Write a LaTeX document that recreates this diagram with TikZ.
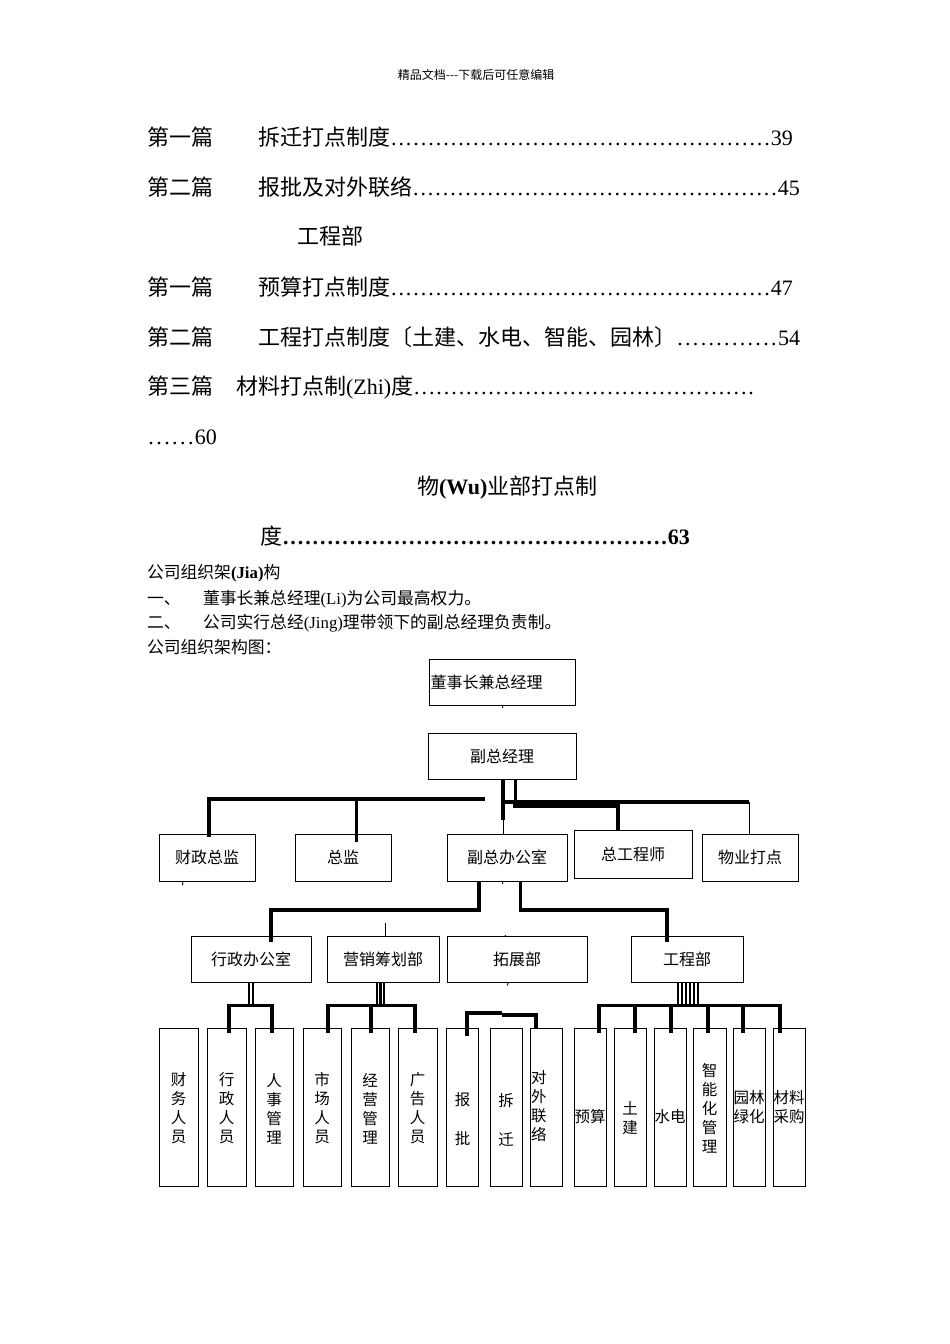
\documentclass[tikz,border=0pt]{standalone}
\usepackage{fontspec}
\setmainfont{Liberation Serif}
\newfontfamily\cjk{Noto Sans CJK SC}
\newcommand\zh[1]{{\cjk #1}}
\newcommand\myleader{\xleaders\hbox to 7.33pt{\hss.\hss}\hfill}
\begin{document}
\begin{tikzpicture}[x=1pt,y=-1pt,
  every node/.style={inner sep=0pt, outer sep=0pt},
  box/.style={draw, line width=0.9pt, minimum height=46pt},
  btxt/.style={font=\cjk\fontsize{16}{19}\selectfont},
  leaf/.style={draw, line width=0.9pt, minimum height=158pt, minimum width=32pt},
  ltxt/.style={font=\cjk\fontsize{15.5}{19}\selectfont, align=center},
  toc/.style={anchor=base west, font=\fontsize{22}{26}\selectfont},
  body/.style={anchor=base west, font=\fontsize{16.8}{20}\selectfont},
  thk/.style={line width=3.5pt},
  thm/.style={line width=2.5pt},
  thn/.style={line width=0.9pt},
]
\fill[white] (0,0) rectangle (950,1344);
\useasboundingbox (0,0) rectangle (950,1344);

% header
\node[anchor=base, font=\cjk\fontsize{12}{14}\selectfont] (hdr) at (476,79.6) {精品文档---下载后可任意编辑};

% table of contents
\node[toc] (t1a) at (147,145.4) {\zh{第一篇}};
\node[toc] (t1b) at (258,145.4) {\hbox to 535pt{\zh{拆迁打点制度}\myleader 39}};
\node[toc] (t2a) at (147,195.4) {\zh{第二篇}};
\node[toc] (t2b) at (258,195.4) {\hbox to 542pt{\zh{报批及对外联络}\myleader 45}};
\node[toc] (t3) at (297,244.4) {\zh{工程部}};
\node[toc] (t4a) at (147,295.4) {\zh{第一篇}};
\node[toc] (t4b) at (258,295.4) {\hbox to 535pt{\zh{预算打点制度}\myleader 47}};
\node[toc] (t5a) at (147,345.4) {\zh{第二篇}};
\node[toc] (t5b) at (258,345.4) {\hbox to 542pt{\zh{工程打点制度〔土建、水电、智能、园林〕}\myleader 54}};
\node[toc] (t6a) at (147,394.4) {\zh{第三篇}};
\node[toc] (t6b) at (236,394.4) {\hbox to 519pt{\zh{材料打点制}(Zhi)\zh{度}\myleader}};
\node[toc] (t7) at (147,444.4) {\hbox to 70pt{\myleader 60}};
\node[toc] (t8) at (417,494.4) {\zh{物}\textbf{(Wu)}\zh{业部打点制}};
\node[toc] (t9) at (260,544.4) {\hbox to 430pt{\zh{度}\bfseries\myleader 63}};

% body text
\node[body] (b1) at (147,578.4) {\zh{公司组织架}\textbf{(Jia)}\zh{构}};
\node[body] (b2a) at (147,604.4) {\zh{一、}};
\node[body] (b2b) at (203,604.4) {\zh{董事长兼总经理}(Li)\zh{为公司最高权力。}};
\node[body] (b3a) at (147,628.4) {\zh{二、}};
\node[body] (b3b) at (203,628.4) {\zh{公司实行总经}(Jing)\zh{理带领下的副总经理负责制。}};
\node[body] (b4) at (147,653.4) {\zh{公司组织架构图：}};

% level 0/1
\node[box, minimum width=146pt] (dsz) at (502,682) {};
\node[btxt, anchor=west] (dszt) at ([xshift=1.5pt]dsz.west) {董事长兼总经理};
\node[box, minimum width=148pt, btxt] (fzjl) at (502,756) {副总经理};

% level 2
\node[box, minimum width=96pt, minimum height=47pt, btxt] (cz) at (207,857.5) {财政总监};
\node[box, minimum width=96pt, minimum height=47pt, btxt] (zj) at (343,857.5) {总监};
\node[box, minimum width=120pt, minimum height=47pt, btxt] (fzb) at (507,857.5) {副总办公室};
\node[box, minimum width=118pt, minimum height=48pt, btxt] (zgc) at (633,854) {总工程师};
\node[box, minimum width=96pt, minimum height=47pt, btxt] (wy) at (750,857.5) {物业打点};

% level 3
\node[box, minimum width=120pt, btxt] (xz) at (251,959.5) {行政办公室};
\node[box, minimum width=112pt, btxt] (yx) at (383,959.5) {营销筹划部};
\node[box, minimum width=140pt, btxt] (tz) at (517,959.5) {拓展部};
\node[box, minimum width=112pt, btxt] (gc) at (687,959.5) {工程部};

% leaves
\node[leaf, minimum width=39pt] (l1) at (178.5,1107) {};
\node[leaf, minimum width=39pt] (l2) at (226.5,1107) {};
\node[leaf, minimum width=38pt] (l3) at (274,1107) {};
\node[leaf, minimum width=38pt] (l4) at (322,1107) {};
\node[leaf, minimum width=38pt] (l5) at (370,1107) {};
\node[leaf, minimum width=39pt] (l6) at (417.5,1107) {};
\node[leaf] (l7) at (462.5,1107) {};
\node[leaf] (l8) at (506,1107) {};
\node[leaf] (l9) at (546,1107) {};
\node[leaf] (l10) at (590,1107) {};
\node[leaf] (l11) at (630,1107) {};
\node[leaf] (l12) at (670,1107) {};
\node[leaf, minimum width=33pt] (l13) at (709.5,1107) {};
\node[leaf] (l14) at (749,1107) {};
\node[leaf] (l15) at (789,1107) {};

\node[ltxt] (l1t) at (178.5,1108.5) {财\\务\\人\\员};
\node[ltxt] (l2t) at (226.5,1108.5) {行\\政\\人\\员};
\node[ltxt] (l3t) at (274,1108.5) {人\\事\\管\\理};
\node[ltxt] (l4t) at (322,1108.5) {市\\场\\人\\员};
\node[ltxt] (l5t) at (370,1108.5) {经\\营\\管\\理};
\node[ltxt] (l6t) at (417.5,1108.5) {广\\告\\人\\员};
\node[ltxt] (l7t) at (462.5,1119.5) {报\\[20pt]批};
\node[ltxt] (l8t) at (506,1119.5) {拆\\[20pt]迁};
\node[ltxt] (l9t) at (538.8,1106.5) {对\\外\\联\\络};
\node[ltxt] (l10t) at (590,1117) {预算};
\node[ltxt] (l11t) at (630,1118.5) {土\\建};
\node[ltxt] (l12t) at (670,1117) {水电};
\node[ltxt] (l13t) at (709.5,1108) {智\\能\\化\\管\\理};
\node[ltxt] (l14t) at (749,1107.5) {园林\\绿化};
\node[ltxt] (l15t) at (789,1107.5) {材料\\采购};

% connectors: level 1 -> level 2
\draw[thk] ([xshift=1pt]fzjl.south) -- ++(0,41) coordinate (fv);
\draw[thn] (fv) -- ([xshift=-4pt]fzb.north);
\draw[thk] ([xshift=13.5pt]fzjl.south) -- ++(0,25);
\coordinate (lb) at (485,799);
\draw[thk] (lb) -| ([xshift=2pt,yshift=-3pt]cz.north);
\draw[thk] ([xshift=13.7pt,yshift=-8pt]zj.north) -- ++(0,-43);
\coordinate (rb) at (504,802);
\draw[thk] (rb) -- ++(245,0) coordinate (rbe);
\draw[thn] (rbe) -- ([xshift=-1pt]wy.north);
\coordinate (rb2) at (513,806);
\draw[thk] (rb2) -| ([xshift=-15pt]zgc.north);

% level 2 -> level 3
\draw[thk] ([xshift=-28pt]fzb.south) -- ++(0,29) -| ([xshift=20pt,yshift=-5pt]xz.north);
\draw[thk] ([xshift=13.5pt]fzb.south) -- ++(0,29) -| ([xshift=-20pt,yshift=-5pt]gc.north);
\draw[thn] ([xshift=2pt]yx.north) -- ++(0,-14);

% level 3 -> leaves
\draw[thm] ([xshift=-2pt]xz.south) -- ++(0,23);
\draw[thm] ([xshift=2pt]xz.south) -- ++(0,23);
\draw[thk] ([xshift=2.5pt,yshift=-5pt]l2.north) |- ([yshift=-23pt]xz.south) -| ([xshift=-2pt,yshift=-5pt]l3.north);

\foreach \s in {-6,-2.5,1} \draw[thm] ([xshift=\s pt]yx.south) -- ++(0,23);
\draw[thk] ([xshift=6pt,yshift=-5pt]l4.north) |- ([yshift=-23pt]yx.south) -| ([xshift=-2.5pt,yshift=-5pt]l6.north);
\draw[thk] ([xshift=1pt,yshift=-5pt]l5.north) -- ++(0,-28);

\draw[thk] ([xshift=4.5pt,yshift=-8pt]l7.north) -- ++(0,-23) -- ++(35,0);
\draw[thk] ([xshift=-10pt]l9.north) -- ++(0,-13) -- ++(-34,0);

\foreach \s in {-9,-5,-1,3,7,11} \draw[thm] ([xshift=\s pt]gc.south) -- ++(0,23);
\draw[thk] ([xshift=9pt,yshift=-5pt]l10.north) |- ([yshift=-23pt]gc.south) -| ([xshift=-9pt,yshift=-5pt]l15.north);
\foreach \n/\s in {l11/5, l12/1, l13/-1.5, l14/-6} \draw[thk] ([xshift=\s pt,yshift=-5pt]\n.north) -- ++(0,-28);

% small stray marks
\draw[thn] ([xshift=1pt]dsz.south) -- ++(-0.5,3);
\draw[thn] ([xshift=-24pt]cz.south) -- ++(-0.5,4);
\draw[thn] ([xshift=-4pt]fzb.south) -- ++(-0.5,3);
\draw[thn] ([xshift=-13pt]tz.north) -- ++(2,-1);
\draw[thn] ([xshift=-9pt]tz.south) -- ++(-0.5,3);
\end{tikzpicture}
\end{document}
